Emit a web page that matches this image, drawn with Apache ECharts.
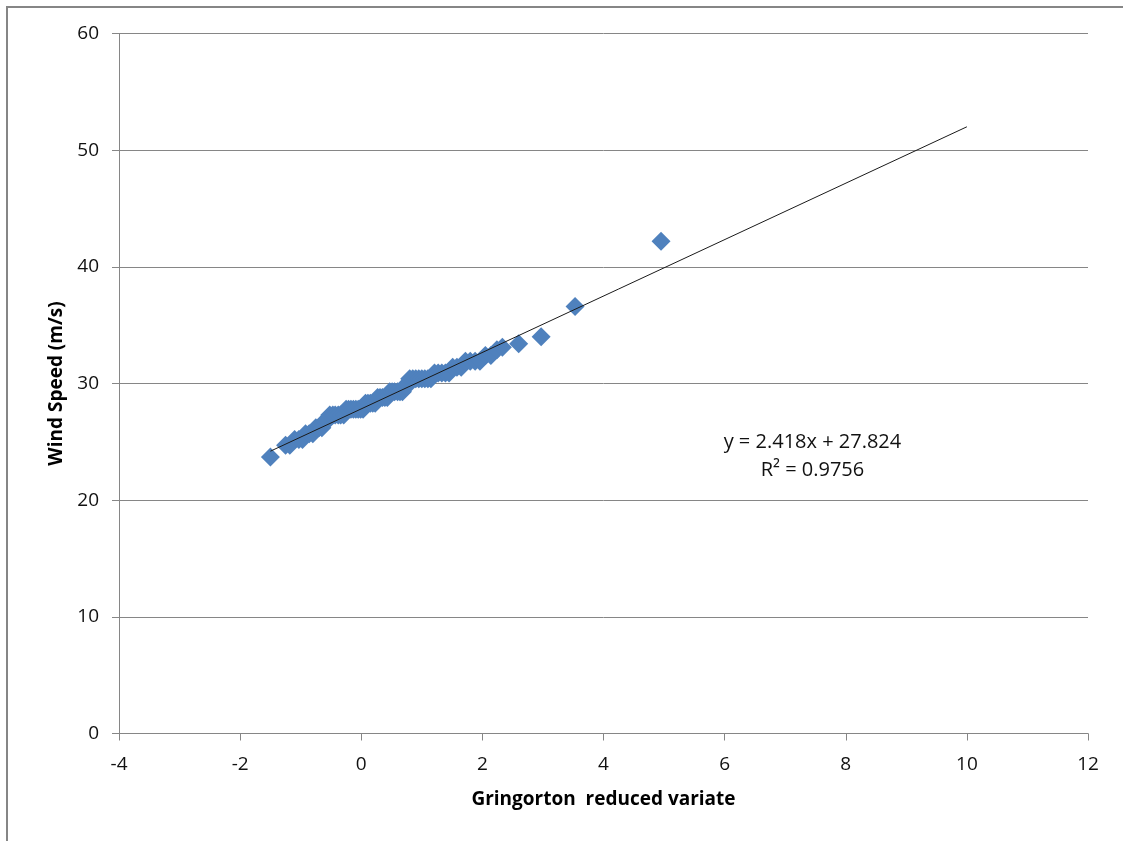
<!DOCTYPE html>
<html>
<head>
<meta charset="utf-8">
<script src="https://cdn.jsdelivr.net/npm/echarts@6/dist/echarts.min.js"></script>
<style>
html,body{margin:0;padding:0;background:#fff;}
#chart{width:1123px;height:841px;}
</style>
</head>
<body>
<div id="chart"></div>
<script>
// Gringorton reduced variate (x) and wind speed (m/s) (y)
var xValues = [
  -1.50,
  -1.25, -1.18,
  -1.10, -1.03, -0.97,
  -0.92, -0.86, -0.80,
  -0.75, -0.70, -0.65,
  -0.60, -0.56,
  -0.52, -0.47, -0.43, -0.38, -0.34, -0.29,
  -0.25, -0.21, -0.17, -0.13, -0.09, -0.05, -0.01, 0.03,
  0.07, 0.11, 0.15, 0.19, 0.23,
  0.27, 0.31, 0.35, 0.39, 0.43,
  0.47, 0.51, 0.55, 0.60, 0.64, 0.68,
  0.72, 0.76,
  0.80, 0.85, 0.90, 0.95, 1.00, 1.05, 1.10, 1.15,
  1.21, 1.27, 1.33, 1.39, 1.45,
  1.51, 1.58, 1.65,
  1.72, 1.80, 1.88, 1.96,
  2.05, 2.14,
  2.24, 2.33,
  2.60,
  2.97,
  3.53,
  4.95
];
var windSpeed = [
  23.7,
  24.7, 24.7,
  25.2, 25.2, 25.2,
  25.7, 25.7, 25.7,
  26.2, 26.2, 26.2,
  26.8, 26.8,
  27.3, 27.3, 27.3, 27.3, 27.3, 27.3,
  27.8, 27.8, 27.8, 27.8, 27.8, 27.8, 27.8, 27.8,
  28.3, 28.3, 28.3, 28.3, 28.3,
  28.8, 28.8, 28.8, 28.8, 28.8,
  29.3, 29.3, 29.3, 29.3, 29.3, 29.3,
  29.8, 29.8,
  30.4, 30.4, 30.4, 30.4, 30.4, 30.4, 30.4, 30.4,
  30.9, 30.9, 30.9, 30.9, 30.9,
  31.4, 31.4, 31.4,
  31.9, 31.9, 31.9, 31.9,
  32.4, 32.4,
  32.9, 33.1,
  33.4,
  34.0,
  36.6,
  42.2
];
// Linear trendline (from the chart's equation), forecast forward to x = 10
var trendSlope = 2.418;
var trendIntercept = 27.824;
var trendXRange = [-1.50, 10];
var equationLines = ['y = 2.418x + 27.824', 'R\u00b2 = 0.9756'];

var xTicks = { min: -4, max: 12, interval: 2 };
var yTicks = { min: 0, max: 60, interval: 10 };

var points = xValues.map(function (x, i) { return [x, windSpeed[i]]; });
var trendPoints = trendXRange.map(function (x) { return [x, trendSlope * x + trendIntercept]; });

var FONT = '"Open Sans", "Liberation Sans", sans-serif';
var chart = echarts.init(document.getElementById('chart'), null, { renderer: 'canvas' });
var borderRect = {
  type: 'rect', silent: true, z: 100,
  shape: { x: 7, y: 7, width: 1140, height: 860 },
  style: { fill: null, stroke: '#868686', lineWidth: 2 }
};
var option = {
  backgroundColor: '#ffffff',
  animation: false,
  grid: { left: 119, right: 35, top: 33.5, bottom: 107.5, containLabel: false },
  xAxis: {
    type: 'value',
    min: xTicks.min, max: xTicks.max, interval: xTicks.interval,
    name: 'Gringorton  reduced variate',
    nameLocation: 'middle', nameGap: 57,
    nameTextStyle: { fontFamily: FONT, fontSize: 19, fontWeight: 'bold', color: '#000' },
    axisLine: { show: true, onZero: false, lineStyle: { color: '#868686', width: 1 } },
    axisTick: { show: true, inside: false, length: 7, lineStyle: { color: '#868686' } },
    axisLabel: { margin: 22, fontFamily: FONT, fontSize: 19, color: '#111' },
    splitLine: { show: false }
  },
  yAxis: {
    type: 'value',
    min: yTicks.min, max: yTicks.max, interval: yTicks.interval,
    name: 'Wind Speed (m/s)',
    nameLocation: 'middle', nameGap: 51, nameRotate: 90,
    nameTextStyle: { fontFamily: FONT, fontSize: 19, fontWeight: 'bold', color: '#000' },
    axisLine: { show: true, onZero: false, lineStyle: { color: '#868686', width: 1 } },
    axisTick: { show: true, inside: false, length: 7, lineStyle: { color: '#868686' } },
    axisLabel: { margin: 20, fontFamily: FONT, fontSize: 19, color: '#111' },
    splitLine: { show: true, lineStyle: { color: '#868686', width: 1 } }
  },
  series: [
    {
      type: 'scatter',
      data: points,
      symbol: 'diamond',
      symbolSize: 19,
      itemStyle: { color: '#4F81BD', opacity: 1 },
      z: 2
    },
    {
      type: 'line',
      data: trendPoints,
      showSymbol: false,
      symbol: 'none',
      lineStyle: { color: '#1a1a1a', width: 1 },
      z: 3
    }
  ],
  graphic: [borderRect]
};
chart.setOption(option);

// Equation label positioned in data space
var p1 = chart.convertToPixel({ gridIndex: 0 }, [7.45, 25.0]);
var p2 = chart.convertToPixel({ gridIndex: 0 }, [7.45, 22.6]);
chart.setOption({
  graphic: [
    borderRect,
    {
      type: 'text', x: p1[0], y: p1[1], z: 50,
      style: { text: equationLines[0], fontFamily: FONT, fontSize: 20, fill: '#111', align: 'center', verticalAlign: 'middle' }
    },
    {
      type: 'text', x: p2[0], y: p2[1], z: 50,
      style: { text: equationLines[1], fontFamily: FONT, fontSize: 20, fill: '#111', align: 'center', verticalAlign: 'middle' }
    }
  ]
});
</script>
</body>
</html>
